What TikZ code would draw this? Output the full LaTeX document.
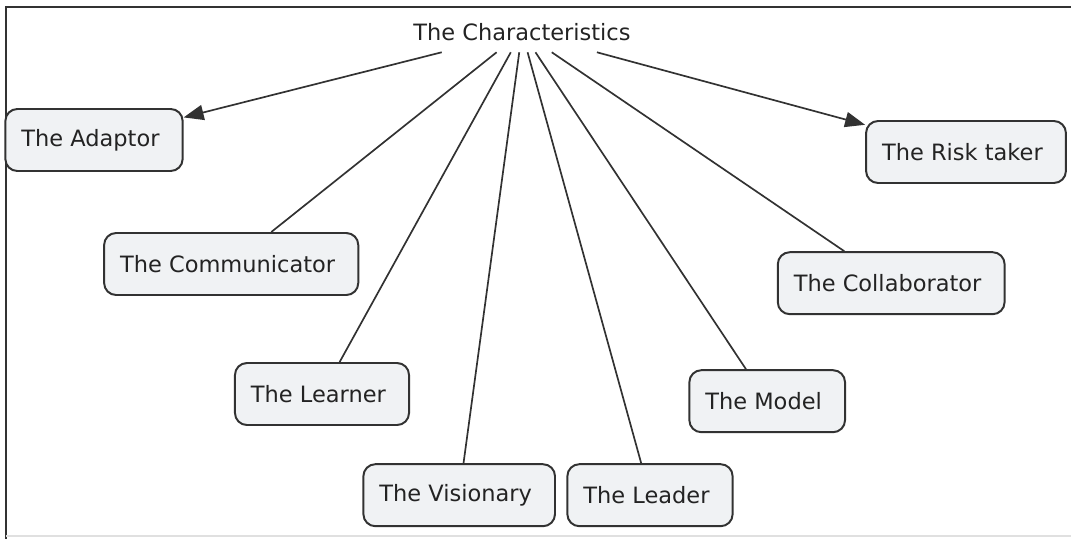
\documentclass[tikz,border=0pt]{standalone}
\usepackage{fontspec}
\setmainfont{DejaVu Sans}
\usetikzlibrary{arrows.meta}
\definecolor{linegray}{RGB}{50,50,50}
\definecolor{boxfill}{RGB}{240,242,244}
\definecolor{textgray}{RGB}{35,35,35}

\begin{document}
\begin{tikzpicture}[font=\fontsize{16}{19}\selectfont, text=textgray, box/.style = {draw=linegray, line width=1.4pt, fill=boxfill, rounded corners=0.3cm, minimum height=1.55cm, inner xsep=0.4cm, align=center}]
\useasboundingbox (0,0) rectangle (26.775,-13.475);
\draw[linegray, line width=1.2pt] (0.15,-13.475) -- (0.15,-0.18) -- (26.775,-0.18);
\draw[black!12, line width=2pt] (0.15,-13.4) -- (26.775,-13.4);

\node[minimum height=1cm, inner xsep=0.1cm] (title) at (13.05, -0.80) { The Characteristics };
\node[box] (adaptor) at (2.35, -3.50) { The Adaptor };
\node[box] (risk_taker) at (24.15, -3.80) { The Risk taker };
\node[box] (communicator) at (5.78, -6.60) { The Communicator };
\node[box] (learner) at (8.05, -9.85) { The Learner };
\node[box] (visionary) at (11.48, -12.38) { The Visionary };
\node[box] (leader) at (16.25, -12.38) { The Leader };
\node[box] (model) at (19.18, -10.03) { The Model };
\node[box] (collaborator) at (22.28, -7.08) { The Collaborator };

\begin{scope}[line width=1.2pt]
\path [color=linegray, -{Triangle[length=0.5cm,width=0.38cm]}] (title) edge (adaptor);
\path [color=linegray, -{Triangle[length=0.5cm,width=0.38cm]}] (title) edge (risk_taker);
\path [color=linegray] (title) edge (communicator);
\path [color=linegray] (title) edge (learner);
\path [color=linegray] (title) edge (visionary);
\path [color=linegray] (title) edge (leader);
\path [color=linegray] (title) edge (model);
\path [color=linegray] (title) edge (collaborator);
\end{scope}
\end{tikzpicture}
\end{document}
